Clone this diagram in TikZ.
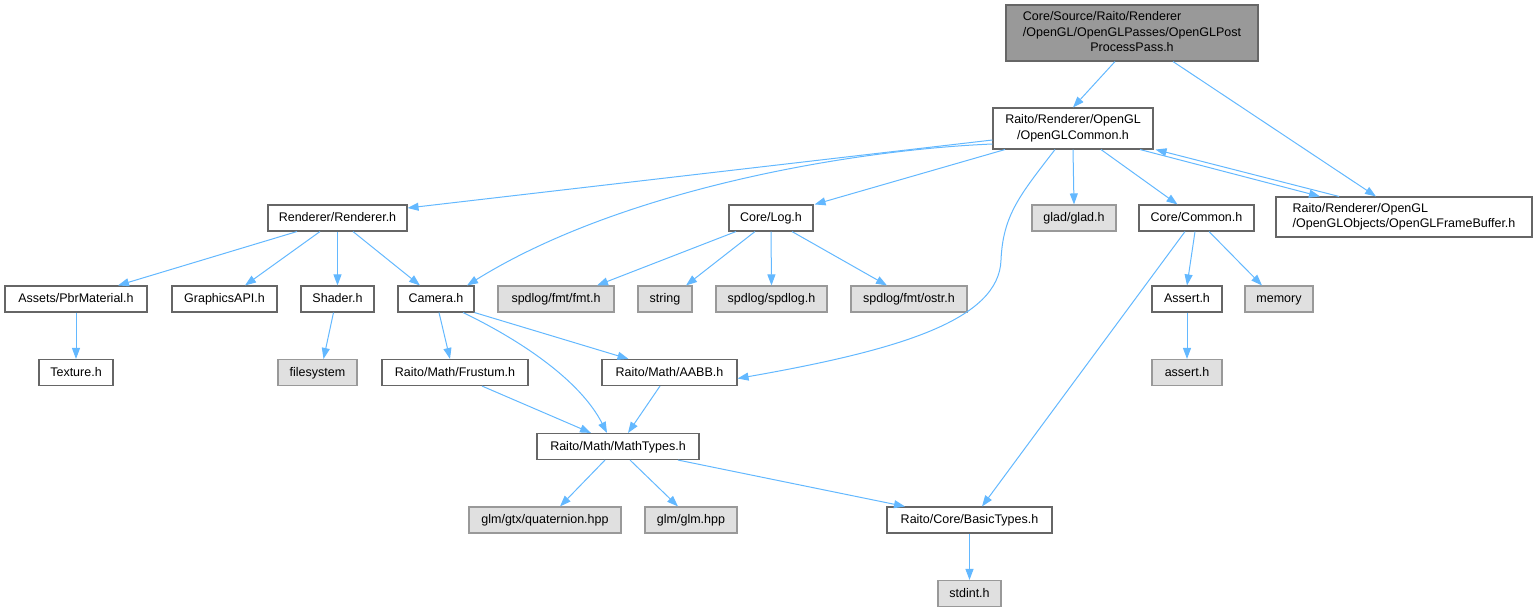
\documentclass[tikz,border=0pt]{standalone}
\usepackage{fontspec}
\setmainfont{Liberation Sans}
\usetikzlibrary{arrows.meta}
\definecolor{edgeblue}{HTML}{63B8FF}
\definecolor{boxborder}{HTML}{666666}
\definecolor{grayfill}{HTML}{E0E0E0}
\definecolor{grayborder}{HTML}{999999}
\definecolor{topfill}{HTML}{999999}
\tikzset{
  file/.style={draw=boxborder, fill=white, line width=1.1pt, inner sep=0pt,
    font=\fontsize{12.5}{15.5}\selectfont, text=black, text height=9.5pt, text depth=2.5pt},
  multiline/.style={text height=, text depth=},
  sysfile/.style={file, draw=grayborder, fill=grayfill},
  topfile/.style={file, fill=topfill},
  dep/.style={draw=edgeblue, line width=1pt, -{Triangle[length=11pt,width=8pt]}},
}
\begin{document}
\begin{tikzpicture}[x=1pt,y=-1pt]
\useasboundingbox (0,0) rectangle (1537,612);
% row 1
\node[topfile, multiline, minimum width=252pt, minimum height=56pt] (top) at (1132,33)
  {\def\arraystretch{1}\begin{tabular}{@{}l@{}}Core/Source/Raito/Renderer\\/OpenGL/OpenGLPasses/OpenGLPost\\\multicolumn{1}{@{}c@{}}{ProcessPass.h}\end{tabular}};
% row 2
\node[file, multiline, minimum width=160pt, minimum height=41pt, align=center] (oglc) at (1073,128.5)
  {Raito/Renderer/OpenGL\\/OpenGLCommon.h};
% row 3
\node[file, multiline, minimum width=256pt, minimum height=40pt, align=left] (fb) at (1404,217)
  {Raito/Renderer/OpenGL\\/OpenGLObjects/OpenGLFrameBuffer.h};
\node[file, minimum width=139pt, minimum height=26pt] (renderer) at (337.5,218) {Renderer/Renderer.h};
\node[file, minimum width=84pt, minimum height=26pt] (log) at (771,218) {Core/Log.h};
\node[sysfile, minimum width=84pt, minimum height=26pt] (glad) at (1074,218) {glad/glad.h};
\node[file, minimum width=115pt, minimum height=26pt] (common) at (1196.5,218) {Core/Common.h};
% row 4
\node[file, minimum width=142pt, minimum height=26pt] (pbr) at (76,299) {Assets/PbrMaterial.h};
\node[file, minimum width=105pt, minimum height=26pt] (gapi) at (224.5,299) {GraphicsAPI.h};
\node[file, minimum width=73pt, minimum height=26pt] (shader) at (337.5,299) {Shader.h};
\node[file, minimum width=76pt, minimum height=26pt] (camera) at (436,299) {Camera.h};
\node[sysfile, minimum width=116pt, minimum height=26pt] (fmt) at (556,299) {spdlog/fmt/fmt.h};
\node[sysfile, minimum width=54pt, minimum height=26pt] (string) at (665,299) {string};
\node[sysfile, minimum width=111pt, minimum height=26pt] (spdlog) at (771.5,299) {spdlog/spdlog.h};
\node[sysfile, minimum width=116pt, minimum height=26pt] (ostr) at (909,299) {spdlog/fmt/ostr.h};
\node[file, minimum width=70pt, minimum height=26pt] (assert) at (1187,299) {Assert.h};
\node[sysfile, minimum width=68pt, minimum height=26pt] (memory) at (1279,299) {memory};
% row 5
\node[file, minimum width=74pt, minimum height=26pt] (texture) at (76,372.5) {Texture.h};
\node[sysfile, minimum width=79pt, minimum height=26pt] (filesystem) at (317.5,372.5) {filesystem};
\node[file, minimum width=146pt, minimum height=26pt] (frustum) at (455,372.5) {Raito/Math/Frustum.h};
\node[file, minimum width=135pt, minimum height=26pt] (aabb) at (669.5,372.5) {Raito/Math/AABB.h};
\node[sysfile, minimum width=70pt, minimum height=26pt] (asserth) at (1187,372.5) {assert.h};
% row 6
\node[file, minimum width=162pt, minimum height=26pt] (mathtypes) at (618,446.5) {Raito/Math/MathTypes.h};
% row 7
\node[sysfile, minimum width=152pt, minimum height=26pt] (quat) at (545,520) {glm/gtx/quaternion.hpp};
\node[sysfile, minimum width=92pt, minimum height=26pt] (glm) at (691,520) {glm/glm.hpp};
\node[file, minimum width=165pt, minimum height=26pt] (basic) at (969.5,520) {Raito/Core/BasicTypes.h};
% row 8
\node[sysfile, minimum width=63pt, minimum height=26pt] (stdint) at (969.5,593.5) {stdint.h};

% edges
\draw[dep] ([xshift=-17pt]top.south) -- (oglc.north);
\draw[dep] ([xshift=41pt]top.south) -- ([xshift=-28pt]fb.north);
\draw[dep] ([yshift=-11.5pt]oglc.west) -- ([yshift=10pt]renderer.east);
\draw[dep] ([yshift=-15.5pt]oglc.west) .. controls (850,150) and (620,190) .. ([xshift=31pt]camera.north);
\draw[dep] ([xshift=-68pt]oglc.south) -- ([xshift=1pt]log.north east);
\draw[dep] ([xshift=-18pt]oglc.south) .. controls (1020,195) and (1003,215) .. (1001,260)
  .. controls (999,320) and (900,350) .. ([yshift=-6pt]aabb.east);
\draw[dep] (oglc.south) -- (glad.north);
\draw[dep] ([xshift=28pt]oglc.south) -- ([xshift=-19pt]common.north);
\draw[dep] ([xshift=67pt]oglc.south) -- ([xshift=-84pt]fb.north);
\draw[dep] ([xshift=-65pt]fb.north) -- ([xshift=2pt]oglc.south east);
\draw[dep] ([xshift=-40.5pt]renderer.south) -- ([xshift=42pt]pbr.north);
\draw[dep] ([xshift=-17.5pt]renderer.south) -- ([xshift=20.5pt]gapi.north);
\draw[dep] (renderer.south) -- (shader.north);
\draw[dep] ([xshift=15.5pt]renderer.south) -- ([xshift=-16pt]camera.north);
\draw[dep] (pbr.south) -- (texture.north);
\draw[dep] ([xshift=-4pt]shader.south) -- ([xshift=6pt]filesystem.north);
\draw[dep] ([xshift=3pt]camera.south) -- ([xshift=-5pt]frustum.north);
\draw[dep] (camera.south east) -- ([xshift=-41pt]aabb.north);
\draw[dep] ([xshift=27pt]camera.south) .. controls (520,340) and (580,380) .. ([xshift=-11pt]mathtypes.north);
\draw[dep] ([xshift=27pt]frustum.south) -- ([xshift=-27pt]mathtypes.north);
\draw[dep] ([xshift=-9.5pt]aabb.south) -- ([xshift=10pt]mathtypes.north);
\draw[dep] ([xshift=-35pt]log.south) -- ([xshift=41pt]fmt.north);
\draw[dep] ([xshift=-16pt]log.south) -- ([xshift=21pt]string.north);
\draw[dep] (log.south) -- (spdlog.north);
\draw[dep] ([xshift=21pt]log.south) -- ([xshift=-22pt]ostr.north);
\draw[dep] ([xshift=-1.5pt]common.south) -- (assert.north);
\draw[dep] ([xshift=12.5pt]common.south) -- ([xshift=-17pt]memory.north);
\draw[dep] ([xshift=-11.5pt]common.south) -- ([xshift=12.5pt]basic.north);
\draw[dep] (assert.south) -- (asserth.north);
\draw[dep] ([xshift=-13pt]mathtypes.south) -- ([xshift=15pt]quat.north);
\draw[dep] ([xshift=12pt]mathtypes.south) -- ([xshift=-13pt]glm.north);
\draw[dep] ([xshift=60pt]mathtypes.south) -- ([xshift=-64.5pt]basic.north);
\draw[dep] (basic.south) -- (stdint.north);
\end{tikzpicture}
\end{document}
